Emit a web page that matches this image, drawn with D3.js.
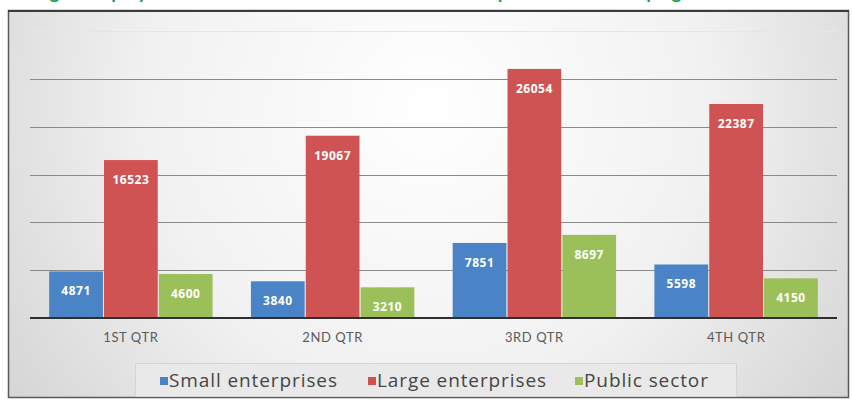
<!DOCTYPE html>
<html>
<head>
<meta charset="utf-8">
<script src="https://cdn.jsdelivr.net/npm/d3@7"></script>
<style>
  html, body { margin: 0; padding: 0; background: #ffffff; }
  svg { display: block; }
</style>
</head>
<body>
<svg id="chart" width="852" height="404"></svg>
<script>
// Quarterly employment by sector
const quarters = ["1ST QTR", "2ND QTR", "3RD QTR", "4TH QTR"];
const seriesNames = ["Small enterprises", "Large enterprises", "Public sector"];
const smallEnterprises = [4871, 3840, 7851, 5598];
const largeEnterprises = [16523, 19067, 26054, 22387];
const publicSector = [4600, 3210, 8697, 4150];
const gridTicks = [5000, 10000, 15000, 20000, 25000, 30000];
const seriesColors = ["#4a84c6", "#cf5353", "#9cc059"];
const titleText = "Fig 2: Employment created in each of the three sectors per month of campaign";

const seriesValues = [smallEnterprises, largeEnterprises, publicSector];
const rows = quarters.map((q, i) => ({
  quarter: q,
  values: seriesNames.map((s, j) => ({ series: s, idx: j, value: seriesValues[j][i] }))
}));

const svg = d3.select("#chart");
const defs = svg.append("defs");

// soft grey frame with a bright centre
const bg = defs.append("radialGradient").attr("id", "bgGrad")
  .attr("cx", "0.5").attr("cy", "0.25").attr("r", "0.75")
  .attr("gradientTransform", "translate(0.5,0.25) scale(1,2.2) translate(-0.5,-0.25)");
bg.append("stop").attr("offset", "0").attr("stop-color", "#ffffff");
bg.append("stop").attr("offset", "0.45").attr("stop-color", "#f1f1f1");
bg.append("stop").attr("offset", "1").attr("stop-color", "#c6c6c6");

// title running above the frame (only its lower edge shows)
svg.append("text")
  .attr("x", 34).attr("y", -1)
  .attr("font-family", "Lato, 'Open Sans', sans-serif")
  .attr("font-weight", "bold")
  .attr("font-size", 19)
  .attr("fill", "#0aa650")
  .text(titleText);

svg.append("rect")
  .attr("x", 8.5).attr("y", 10.5).attr("width", 840).attr("height", 387)
  .attr("fill", "url(#bgGrad)")
  .attr("stroke", "#5a5a5a").attr("stroke-width", 1.5);
svg.append("line")
  .attr("x1", 8).attr("x2", 849).attr("y1", 11).attr("y2", 11)
  .attr("stroke", "#3c3c3c").attr("stroke-width", 2);

const plotLeft = 30, plotRight = 837;
const y = d3.scaleLinear().domain([0, 30000]).range([318, 31.2]);

const x0 = d3.scaleBand().domain(quarters)
  .range([plotLeft, plotRight]).paddingInner(0.19).paddingOuter(0.095);
const x1 = d3.scaleBand().domain(seriesNames)
  .range([0, x0.bandwidth()]).paddingInner(0.02);

// horizontal gridlines
svg.append("g").selectAll("line").data(gridTicks).join("line")
  .attr("x1", plotLeft).attr("x2", plotRight)
  .attr("y1", d => Math.round(y(d)) + 0.5).attr("y2", d => Math.round(y(d)) + 0.5)
  .attr("stroke", d => d === 30000 ? "#e6e6e6" : "#8a8a8a")
  .attr("stroke-width", 1.2);

// bars
const groups = svg.append("g").selectAll("g").data(rows).join("g")
  .attr("transform", d => `translate(${x0(d.quarter)},0)`);

groups.selectAll("rect").data(d => d.values).join("rect")
  .attr("x", d => x1(d.series))
  .attr("y", d => y(d.value))
  .attr("width", x1.bandwidth())
  .attr("height", d => y(0) - y(d.value))
  .attr("fill", d => seriesColors[d.idx]);

// value labels inside the top of each bar
groups.selectAll("text").data(d => d.values).join("text")
  .attr("x", d => x1(d.series) + x1.bandwidth() / 2)
  .attr("y", d => y(d.value) + 24)
  .attr("text-anchor", "middle")
  .attr("font-family", "'Open Sans', 'DejaVu Sans', sans-serif")
  .attr("font-weight", "bold")
  .attr("font-size", 12)
  .attr("letter-spacing", 0.5)
  .attr("fill", "#ffffff")
  .text(d => d.value);

// category axis
const xAxis = svg.append("g").attr("transform", `translate(0,${y(0)})`)
  .call(d3.axisBottom(x0).tickSize(0).tickPadding(15));
xAxis.select(".domain").remove();
xAxis.append("line")
  .attr("x1", plotLeft).attr("x2", plotRight).attr("y1", 0).attr("y2", 0)
  .attr("stroke", "#2f2f2f").attr("stroke-width", 2);
xAxis.selectAll(".tick text")
  .attr("font-family", "Lato, 'Open Sans', sans-serif")
  .attr("font-size", 13)
  .attr("letter-spacing", 0.6)
  .attr("fill", "#5a5a5a");

// legend
const legend = svg.append("g");
legend.append("rect")
  .attr("x", 135.5).attr("y", 363.5).attr("width", 601).attr("height", 33)
  .attr("fill", "#e9e9e9").attr("stroke", "#d4d4d4");
const legendX = [160, 368, 575];
const items = legend.selectAll("g").data(seriesNames).join("g")
  .attr("transform", (d, i) => `translate(${legendX[i]},381)`);
items.append("rect")
  .attr("x", 0).attr("y", -4).attr("width", 8).attr("height", 8)
  .attr("fill", (d, i) => seriesColors[i]);
items.append("text")
  .attr("x", 9).attr("y", 6)
  .attr("font-family", "'Open Sans', Lato, sans-serif")
  .attr("font-size", 19)
  .attr("letter-spacing", 0.9)
  .attr("fill", "#454545")
  .text(d => d);
</script>
</body>
</html>
